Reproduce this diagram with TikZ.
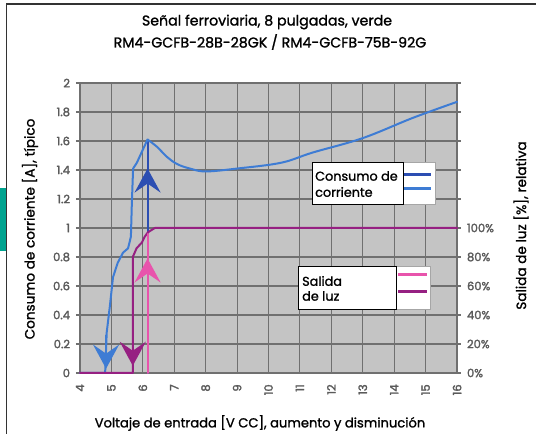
\documentclass[tikz,border=0pt]{standalone}
\usepackage{fontspec}
\setmainfont{Poppins}
\newfontfamily\medfont{Poppins}[FakeBold=1.3]
\newfontfamily\tickfont{Poppins}[FakeBold=2.2]
\usetikzlibrary{arrows.meta}
\definecolor{curblue}{RGB}{62,124,212}
\definecolor{arrblue}{RGB}{44,78,178}
\definecolor{luzpink}{RGB}{232,84,172}
\definecolor{luzpurple}{RGB}{150,32,130}
\definecolor{plotgray}{RGB}{196,196,196}
\definecolor{gridgray}{RGB}{112,112,112}
\definecolor{ticktext}{RGB}{90,90,90}
\definecolor{geteal}{RGB}{0,163,143}
\tikzset{bigtip/.style={-{Stealth[length=24pt,width=26pt,inset=9pt]}},
  curve/.style={line width=2pt,line join=round,line cap=round},
  lbl/.style={font=\medfont\fontsize{12.8}{14}\selectfont},
  ticklbl/.style={font=\tickfont\fontsize{11.5}{12}\selectfont,text=ticktext,inner sep=1pt}}

\begin{document}
\begin{tikzpicture}[x=1pt,y=1pt]
\useasboundingbox (0,0) rectangle (536,434);
% frame
\fill[geteal] (0,183) rectangle (5.5,246);
\draw[line width=1.5pt,black!80] (6.7,0) -- (6.7,430) -- (536,430);

\node[lbl,font=\medfont\fontsize{14.2}{16}\selectfont] (title1) at (267,412) {Señal ferroviaria, 8 pulgadas, verde};
\node[lbl,font=\medfont\fontsize{14.2}{16}\selectfont] (title2) at (270,392) {RM4-GCFB-28B-28GK / RM4-GCFB-75B-92G};
\node[lbl,font=\medfont\fontsize{13.6}{15}\selectfont,rotate=90] (ytitle) at (30,205) {Consumo de corriente [A], típico};
\node[lbl,font=\medfont\fontsize{13.6}{15}\selectfont,rotate=90] (y2title) at (521,208.5) {Salida de luz [\%], relativa};
\node[lbl,font=\medfont\fontsize{13.1}{15}\selectfont] (xtitle) at (260,11) {Voltaje de entrada [V CC], aumento y disminución};

% plot, in volts and amperes
\begin{scope}[x=31.42pt,y=145pt,shift={(-45.68pt,61pt)}]
\fill[plotgray] (4,0) rectangle (16,2);
\foreach \v in {4,...,16}
  \draw[gridgray,line width=1.1pt] (\v,0) -- (\v,2.01);
\foreach \k in {0,...,10}
  \draw[gridgray,line width=1.1pt] (3.87,\k/5) -- (16.13,\k/5);

\foreach \k/\t in {0/0,1/0.2,2/0.4,3/0.6,4/0.8,5/1,6/1.2,7/1.4,8/1.6,9/1.8,10/2}
  \node[ticklbl,anchor=east] at (3.72,\k/5) {\t};
\foreach \k/\t in {0/0,1/20,2/40,3/60,4/80,5/100}
  \node[ticklbl,anchor=west] at (16.28,\k/5) {\t\%};
\foreach \v in {4,...,16}
  \node[ticklbl,rotate=90,anchor=east] at (\v,-0.07) {\v};

% consumo de corriente
\draw[curve,arrblue] (6.15,0) -- (6.15,1.6);
\draw[curve,curblue] (4,0) -- (4.8,0) -- (4.85,0.28) -- (4.95,0.46) -- (5.05,0.66)
  -- (5.2,0.76) -- (5.37,0.83) -- (5.53,0.86) -- (5.62,0.94) -- (5.65,1.17)
  -- (5.69,1.41) -- (5.81,1.45) -- (6.0,1.54) -- (6.15,1.61);
\draw[curve,curblue] plot[smooth,tension=0.6] coordinates {(6.15,1.61) (6.45,1.56) (6.77,1.49)
  (7.1,1.44) (7.5,1.41) (8.0,1.39) (9,1.41) (10.4,1.45) (11.4,1.52) (13.0,1.62)
  (14.6,1.76) (16,1.87)};
\draw[curve,curblue,bigtip] (4.83,0.26) -- (4.83,0.03);
\draw[curve,arrblue,bigtip] (6.15,1.22) -- (6.15,1.41);

% salida de luz
\draw[curve,luzpurple] (4,0) -- (5.68,0) -- (5.68,0.80) -- (5.8,0.86) -- (5.97,0.90)
  -- (6.06,0.94) -- (6.16,0.97) -- (6.38,1.0) -- (16,1.0);
\draw[curve,luzpink] (6.15,0) -- (6.15,0.96);
\draw[curve,luzpurple,bigtip] (5.68,0.33) -- (5.68,0.05);
\draw[curve,luzpink,bigtip] (6.15,0.6) -- (6.15,0.79);
\end{scope}

% legends
\draw[fill=white,draw=black!35] (312,230) rectangle (435,272);
\draw[fill=white,draw=black,line width=0.8pt] (312,230) rectangle (403,272);
\node[lbl,anchor=west,inner sep=0pt] (leg1a) at (315,258) {Consumo de};
\node[lbl,anchor=west,inner sep=0pt] (leg1b) at (315,242) {corriente};
\draw[arrblue,line width=3pt] (404,259) -- (431,259);
\draw[curblue,line width=3pt] (404,245) -- (431,245);

\draw[fill=white,draw=black!35] (298,125) rectangle (430,168);
\draw[fill=white,draw=black,line width=0.8pt] (298,125) rectangle (396,168);
\node[lbl,anchor=west,inner sep=0pt] (leg2a) at (302,153) {Salida};
\node[lbl,anchor=west,inner sep=0pt] (leg2b) at (302,138) {de luz};
\draw[luzpink,line width=3pt] (398,159) -- (427,159);
\draw[luzpurple,line width=3pt] (398,142) -- (427,142);
\end{tikzpicture}
\end{document}
